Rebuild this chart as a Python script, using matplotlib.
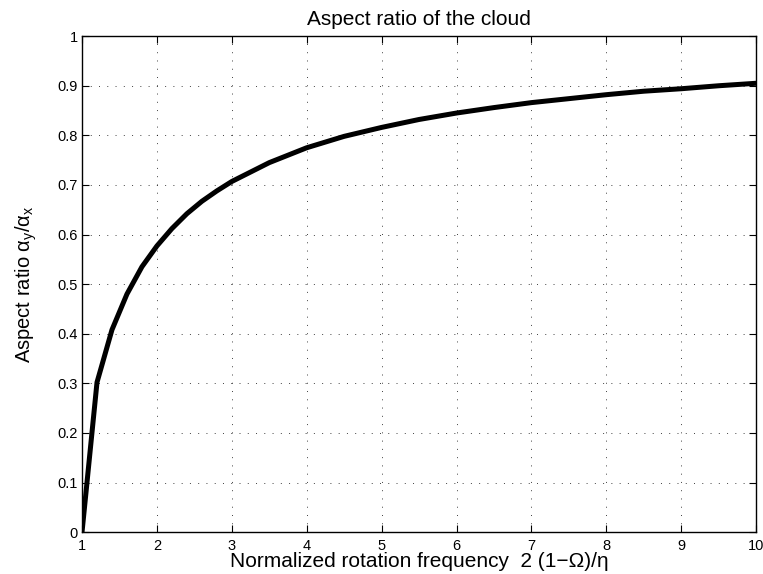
import matplotlib
matplotlib.use("Agg")
import matplotlib.pyplot as plt

# values
freq = [1.0, 1.2, 1.4, 1.6, 1.8, 2.0, 2.2, 2.4, 2.6, 2.8, 3.0, 3.5, 4.0, 4.5,
        5.0, 5.5, 6.0, 6.5, 7.0, 7.5, 8.0, 8.5, 9.0, 9.5, 10.0]
ratio = [0.0, 0.302, 0.408, 0.480, 0.535, 0.577, 0.612, 0.642, 0.667, 0.688,
         0.707, 0.745, 0.775, 0.798, 0.816, 0.832, 0.845, 0.856, 0.866, 0.874,
         0.882, 0.889, 0.894, 0.900, 0.905]
xticks = list(range(1, 11))
yticks = [0, 0.1, 0.2, 0.3, 0.4, 0.5, 0.6, 0.7, 0.8, 0.9, 1]
yticklabels = ["0", "0.1", "0.2", "0.3", "0.4", "0.5", "0.6", "0.7", "0.8", "0.9", "1"]

plt.rcParams['font.family'] = ['Liberation Sans', 'DejaVu Sans']
plt.rcParams['mathtext.fontset'] = 'custom'
plt.rcParams['mathtext.rm'] = 'Liberation Sans'
plt.rcParams['mathtext.it'] = 'Liberation Sans'

fig = plt.figure(figsize=(7.63, 5.74), dpi=100)
ax = fig.add_axes([0.1075, 0.073, 0.8835, 0.864])

ax.plot(freq, ratio, color='black', linewidth=3.6, solid_joinstyle='miter')

ax.set_xlim(1, 10)
ax.set_ylim(0, 1)
ax.set_xticks(xticks)
ax.set_yticks(yticks)
ax.set_yticklabels(yticklabels)
ax.tick_params(direction='in', length=5, width=0.8, top=True, right=True,
               labelsize=10.5)
ax.tick_params(axis='x', pad=5)
ax.tick_params(axis='y', pad=3)
ax.grid(True, linestyle=(0, (1, 7.5)), color='black', linewidth=0.7, alpha=0.75)
for s in ax.spines.values():
    s.set_linewidth(1.0)

ax.set_title("Aspect ratio of the cloud", fontsize=15, pad=8)
ax.set_xlabel("Normalized rotation frequency  2 (1\u2212\u03a9)/\u03b7", fontsize=15, labelpad=-1)
ax.set_ylabel("Aspect ratio $\\alpha_y/\\alpha_x$", fontsize=14.5, labelpad=13)

fig.savefig("out.png", dpi=100)
